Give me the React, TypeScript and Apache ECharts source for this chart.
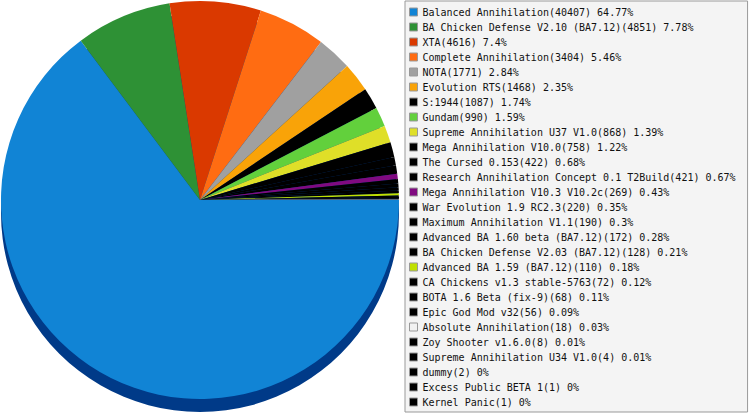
import React, { useEffect, useRef } from "react";
import * as echarts from "echarts";

const categories = [
  "Balanced Annihilation",
  "BA Chicken Defense V2.10 (BA7.12)",
  "XTA",
  "Complete Annihilation",
  "NOTA",
  "Evolution RTS",
  "S:1944",
  "Gundam",
  "Supreme Annihilation U37 V1.0",
  "Mega Annihilation V10.0",
  "The Cursed 0.153",
  "Research Annihilation Concept 0.1 T2Build",
  "Mega Annihilation V10.3 V10.2c",
  "War Evolution 1.9 RC2.3",
  "Maximum Annihilation V1.1",
  "Advanced BA 1.60 beta (BA7.12)",
  "BA Chicken Defense V2.03 (BA7.12)",
  "Advanced BA 1.59 (BA7.12)",
  "CA Chickens v1.3 stable-5763",
  "BOTA 1.6 Beta (fix-9)",
  "Epic God Mod v32",
  "Absolute Annihilation",
  "Zoy Shooter v1.6.0",
  "Supreme Annihilation U34 V1.0",
  "dummy",
  "Excess Public BETA 1",
  "Kernel Panic",
];

const values = [
  40407, 4851, 4616, 3404, 1771, 1468, 1087, 990, 868, 758, 422, 421, 269, 220,
  190, 172, 128, 110, 72, 68, 56, 18, 8, 4, 2, 1, 1,
];

const percents = [
  "64.77", "7.78", "7.4", "5.46", "2.84", "2.35", "1.74", "1.59", "1.39", "1.22",
  "0.68", "0.67", "0.43", "0.35", "0.3", "0.28", "0.21", "0.18", "0.12", "0.11",
  "0.09", "0.03", "0.01", "0.01", "0", "0", "0",
];

const colors = [
  "#1184d5", "#2e9135", "#da3900", "#ff6c12", "#a0a0a0", "#f9a308", "#000000",
  "#62d03c", "#dfdf28", "#000000", "#000000", "#000000", "#800a80", "#000000",
  "#000000", "#000000", "#000000", "#c0e000", "#000000", "#000000", "#000000",
  "#f2f2f2", "#000000", "#000000", "#000000", "#000000", "#000000",
];

export default function App() {
  const ref = useRef<HTMLDivElement>(null);

  useEffect(() => {
    if (!ref.current) return;
    const chart = echarts.init(ref.current, undefined, { renderer: "svg" });
    const total = values.reduce((a, b) => a + b, 0);
    const byName: Record<string, number> = {};
    categories.forEach((c, i) => (byName[c] = i));

    chart.setOption({
      animation: false,
      backgroundColor: "#ffffff",
      legend: {
        orient: "vertical",
        left: 405,
        top: 1,
        padding: [6, 12, 5, 4],
        itemGap: 5,
        itemWidth: 8,
        itemHeight: 8,
        icon: "rect",
        backgroundColor: "#f4f4f4",
        borderColor: "#999999",
        borderWidth: 1,
        borderRadius: 0,
        selectedMode: false,
        itemStyle: { borderColor: "#999999", borderWidth: 1 },
        textStyle: {
          fontFamily: "DejaVu Sans Mono",
          fontSize: 10,
          color: "#111111",
          padding: [0, 0, 0, 0],
        },
        data: categories,
        formatter: (name: string) => {
          const i = byName[name];
          return `${name}(${values[i]}) ${percents[i]}%`;
        },
      },
      series: [
        {
          type: "pie",
          name: "side",
          silent: true,
          z: 1,
          center: [200, 213],
          radius: 199,
          startAngle: 0,
          clockwise: true,
          label: { show: false },
          labelLine: { show: false },
          emphasis: { disabled: true },
          itemStyle: { color: "#003a88", borderWidth: 0 },
          data: [{ name: "__side__", value: total }],
        },
        {
          type: "pie",
          name: "mods",
          z: 2,
          center: [200, 200],
          radius: 199,
          startAngle: 0,
          clockwise: true,
          minAngle: 0,
          avoidLabelOverlap: false,
          label: { show: false },
          labelLine: { show: false },
          emphasis: { disabled: true },
          itemStyle: { borderWidth: 0 },
          data: categories.map((c, i) => ({
            name: c,
            value: values[i],
            itemStyle: { color: colors[i] },
          })),
        },
      ],
    });
    return () => chart.dispose();
  }, []);

  return (
    <div
      ref={ref}
      style={{ position: "fixed", left: 0, top: 0, width: 749, height: 415 }}
    />
  );
}
